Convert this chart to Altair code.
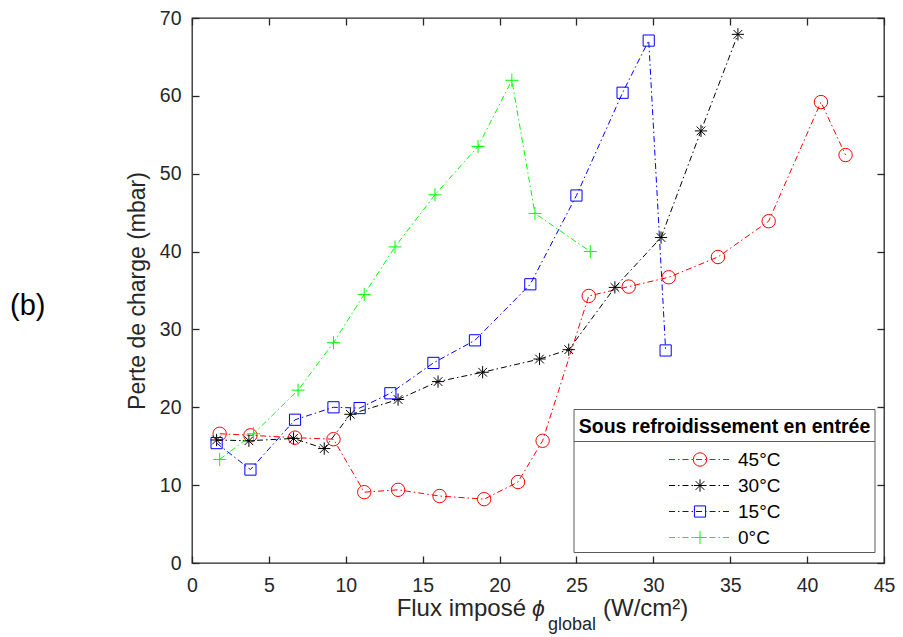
import altair as alt
import pandas as pd

# ---------------- data ----------------
series = ["45°C", "30°C", "15°C", "0°C"]

flux_45 = [1.8, 3.8, 6.7, 9.2, 11.2, 13.4, 16.1, 19.0, 21.2, 22.8, 25.8, 28.4, 31.0, 34.2, 37.5, 40.9, 42.5]
perte_45 = [16.6, 16.4, 16.1, 15.9, 9.1, 9.4, 8.6, 8.2, 10.4, 15.7, 34.3, 35.5, 36.7, 39.3, 43.9, 59.2, 52.4]

flux_30 = [1.6, 3.7, 6.6, 8.6, 10.3, 13.4, 16.0, 18.9, 22.6, 24.5, 27.5, 30.5, 33.1, 35.5]
perte_30 = [15.8, 15.7, 16.0, 14.7, 19.1, 21.0, 23.3, 24.5, 26.2, 27.4, 35.4, 41.8, 55.5, 67.9]

flux_15 = [1.6, 3.8, 6.7, 9.2, 10.9, 12.9, 15.7, 18.4, 22.0, 25.0, 28.0, 29.7, 30.8]
perte_15 = [15.4, 12.0, 18.4, 20.0, 19.9, 21.8, 25.7, 28.6, 35.8, 47.2, 60.4, 67.1, 27.3]

flux_0 = [1.8, 4.0, 6.9, 9.2, 11.2, 13.2, 15.8, 18.6, 20.8, 22.3, 25.9]
perte_0 = [13.3, 16.6, 22.2, 28.3, 34.5, 40.6, 47.3, 53.5, 62.0, 44.9, 40.0]

x_ticks = [0, 5, 10, 15, 20, 25, 30, 35, 40, 45]
y_ticks = [0, 10, 20, 30, 40, 50, 60, 70]

legend_title = "Sous refroidissement en entrée"
y_title = "Perte de charge (mbar)"
panel_label = "(b)"

# ---------------- styling ----------------
colors = ["#FF0000", "#000000", "#0000FF", "#00FF00"]
shapes = [
    "circle",
    "M-1,0L1,0M0,-1L0,1M-0.71,-0.71L0.71,0.71M-0.71,0.71L0.71,-0.71",
    "square",
    "M-1,0L1,0M0,-1L0,1",
]
sizes = [180, 150, 125, 170]

W, H = 692, 545
FONT = "Liberation Sans"
INK = "#262626"
DASH = [6, 3, 1.5, 3]
TICK = 7

xscale = alt.Scale(domain=[0, 45], nice=False, zero=False)
yscale = alt.Scale(domain=[0, 70], nice=False, zero=False)


def axis(orient, values, labels=True, **kw):
    return alt.Axis(
        orient=orient, values=values, labels=labels, domain=False, grid=False,
        ticks=True, tickSize=TICK, offset=-TICK, tickColor=INK, tickWidth=1.3,
        labelFont=FONT, labelFontSize=19.5, labelColor=INK, labelFlush=False,
        labelOverlap=False, labelBound=False, **kw,
    )


ax_bottom = axis("bottom", x_ticks, labelPadding=13, title=None)
ax_left = axis("left", y_ticks, labelPadding=11, title=y_title, titleFont=FONT,
               titleFontSize=23, titleFontWeight="normal", titleColor=INK, titlePadding=10)
ax_top = axis("top", x_ticks, labels=False, title=None)
ax_right = axis("right", y_ticks, labels=False, title=None)

xs = [flux_45, flux_30, flux_15, flux_0]
ys = [perte_45, perte_30, perte_15, perte_0]

layers = []
for i, s in enumerate(series):
    df = pd.DataFrame({"flux": xs[i], "perte": ys[i], "idx": list(range(len(xs[i]))), "serie": s})
    xa = ax_bottom if i == 0 else None
    ya = ax_left if i == 0 else None
    line = alt.Chart(df).mark_line(color=colors[i], strokeWidth=1, strokeDash=DASH).encode(
        x=alt.X("flux:Q", scale=xscale, axis=xa),
        y=alt.Y("perte:Q", scale=yscale, axis=ya),
        order="idx:Q",
    )
    xa2 = ax_top if i == 0 else None
    ya2 = ax_right if i == 0 else None
    pts = alt.Chart(df).mark_point(
        shape=shapes[i], size=sizes[i], filled=False, color=colors[i], strokeWidth=1, opacity=1
    ).encode(
        x=alt.X("flux:Q", scale=xscale, axis=xa2),
        y=alt.Y("perte:Q", scale=yscale, axis=ya2),
    )
    layers += [line, pts]

one = pd.DataFrame({"k": [0]})

# ---------------- legend (manual, MATLAB style) ----------------
LX0, LX1, LY0, LY1 = 382, 683, 391.5, 534.5
SEP_Y = 423.5
ENTRY_Y0, ENTRY_DY = 441.5, 26
SEG_X0, SEG_X1, MARK_X, LABEL_X = 477, 540, 508, 546

layers.append(alt.Chart(one).mark_rect(fill="white", stroke="#5a5a5a", strokeWidth=1).encode(
    x=alt.value(LX0), x2=alt.value(LX1), y=alt.value(LY0), y2=alt.value(LY1)))
layers.append(alt.Chart(one).mark_rule(color="#5a5a5a", strokeWidth=1).encode(
    x=alt.value(LX0), x2=alt.value(LX1), y=alt.value(SEP_Y)))
layers.append(alt.Chart(one).mark_text(
    text=legend_title, font=FONT, fontSize=19.5, fontWeight="bold", color="black",
    align="center", baseline="middle").encode(
    x=alt.value((LX0 + LX1) / 2), y=alt.value((LY0 + SEP_Y) / 2 + 1)))
for i, s in enumerate(series):
    yy = ENTRY_Y0 + i * ENTRY_DY
    layers.append(alt.Chart(one).mark_rule(color=colors[i], strokeWidth=1, strokeDash=DASH).encode(
        x=alt.value(SEG_X0), x2=alt.value(SEG_X1), y=alt.value(yy)))
    layers.append(alt.Chart(one).mark_point(
        shape=shapes[i], size=sizes[i], filled=False, color=colors[i], strokeWidth=1, opacity=1).encode(
        x=alt.value(MARK_X), y=alt.value(yy)))
    layers.append(alt.Chart(one).mark_text(
        text=s, font=FONT, fontSize=19, color="black", align="left", baseline="middle").encode(
        x=alt.value(LABEL_X), y=alt.value(yy)))

# ---------------- x title with subscript, and panel label ----------------
TY = 597.5
layers.append(alt.Chart(one).mark_text(text="Flux imposé", font=FONT, fontSize=24, color=INK,
                                       align="right", baseline="alphabetic").encode(
    x=alt.value(334), y=alt.value(TY)))
layers.append(alt.Chart(one).mark_text(text="ϕ", font=FONT, fontSize=23, fontStyle="italic",
                                       color=INK, align="left", baseline="alphabetic").encode(
    x=alt.value(340), y=alt.value(TY)))
layers.append(alt.Chart(one).mark_text(text="global", font=FONT, fontSize=18, color=INK,
                                       align="left", baseline="alphabetic").encode(
    x=alt.value(356), y=alt.value(TY + 14)))
layers.append(alt.Chart(one).mark_text(text="(W/cm²)", font=FONT, fontSize=24, color=INK,
                                       align="left", baseline="alphabetic").encode(
    x=alt.value(411), y=alt.value(TY)))
layers.append(alt.Chart(one).mark_text(text=panel_label, font=FONT, fontSize=29, color="black",
                                       align="left", baseline="middle").encode(
    x=alt.value(-182), y=alt.value(287.5)))

chart = alt.layer(*layers).resolve_axis(x="independent", y="independent").properties(
    width=W, height=H,
    autosize=alt.AutoSizeParams(type="none"),
    padding={"left": 184, "top": 10, "right": 11, "bottom": 72},
    background="white",
).configure_view(stroke=INK, strokeWidth=1.3)

chart.save("out.html", embed_options={"renderer": "svg", "actions": False})
